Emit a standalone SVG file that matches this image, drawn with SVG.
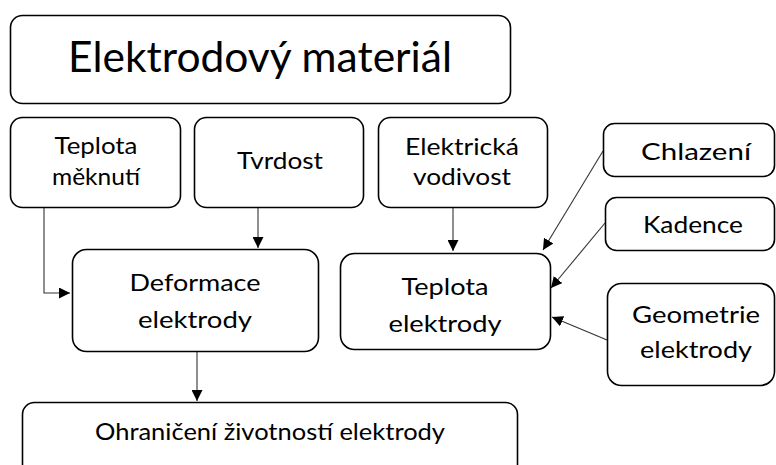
<svg xmlns="http://www.w3.org/2000/svg" width="776" height="465" viewBox="0 0 776 465">
<style>
.box{fill:#fff;stroke:#000;stroke-width:1.6}
.t{font-family:Lato,"Open Sans","Liberation Sans",sans-serif;font-size:24px;fill:#000;text-anchor:middle}
.title{font-size:42px}
.c{fill:none;stroke:#333;stroke-width:1.1}
</style>
<defs>
<marker id="ah" viewBox="0 0 10 10" refX="10" refY="5" markerWidth="11" markerHeight="11" markerUnits="userSpaceOnUse" orient="auto">
<path d="M0,0 L10,5 L0,10 Z" fill="#000"/>
</marker>
</defs>
<rect x="0" y="0" width="776" height="465" fill="#fff"/>
<g id="connectors">
<path class="c" d="M44,207 V293 H70" marker-end="url(#ah)"/>
<path class="c" d="M258,207 V248" marker-end="url(#ah)"/>
<path class="c" d="M453,207 V251" marker-end="url(#ah)"/>
<path class="c" d="M603,151 L543,250" marker-end="url(#ah)"/>
<path class="c" d="M605,223 L551,288" marker-end="url(#ah)"/>
<path class="c" d="M607,340 L552,317" marker-end="url(#ah)"/>
<path class="c" d="M197,352 V401" marker-end="url(#ah)"/>
</g>
<g id="n-material">
<rect class="box" x="10.5" y="15.5" width="500" height="88" rx="12"/>
<text class="t title" x="260" y="72" textLength="384" lengthAdjust="spacingAndGlyphs">Elektrodový materiál</text>
</g>
<g id="n-mekn">
<rect class="box" x="10.5" y="117.5" width="170" height="90" rx="12"/>
<text class="t" x="96" y="154" textLength="83" lengthAdjust="spacingAndGlyphs">Teplota</text>
<text class="t" x="96" y="185" textLength="88" lengthAdjust="spacingAndGlyphs">měknutí</text>
</g>
<g id="n-tvrdost">
<rect class="box" x="194.5" y="117.5" width="169" height="90" rx="12"/>
<text class="t" x="280" y="169" textLength="86" lengthAdjust="spacingAndGlyphs">Tvrdost</text>
</g>
<g id="n-vodivost">
<rect class="box" x="378.5" y="117.5" width="169" height="90" rx="12"/>
<text class="t" x="462" y="155" textLength="114" lengthAdjust="spacingAndGlyphs">Elektrická</text>
<text class="t" x="462" y="185" textLength="98" lengthAdjust="spacingAndGlyphs">vodivost</text>
</g>
<g id="n-chlazeni">
<rect class="box" x="603.5" y="123.5" width="171" height="53" rx="11"/>
<text class="t" x="696" y="160" textLength="110" lengthAdjust="spacingAndGlyphs">Chlazení</text>
</g>
<g id="n-kadence">
<rect class="box" x="605.5" y="197.5" width="169" height="53" rx="11"/>
<text class="t" x="693" y="233" textLength="100" lengthAdjust="spacingAndGlyphs">Kadence</text>
</g>
<g id="n-geometrie">
<rect class="box" x="607.5" y="283.5" width="167" height="102" rx="14"/>
<text class="t" x="696" y="323" textLength="128" lengthAdjust="spacingAndGlyphs">Geometrie</text>
<text class="t" x="696" y="358" textLength="112" lengthAdjust="spacingAndGlyphs">elektrody</text>
</g>
<g id="n-deformace">
<rect class="box" x="72.5" y="249.5" width="246" height="102" rx="14"/>
<text class="t" x="195" y="291" textLength="131" lengthAdjust="spacingAndGlyphs">Deformace</text>
<text class="t" x="195" y="328" textLength="114" lengthAdjust="spacingAndGlyphs">elektrody</text>
</g>
<g id="n-teplota">
<rect class="box" x="340.5" y="253.5" width="210" height="96" rx="14"/>
<text class="t" x="445" y="295" textLength="87" lengthAdjust="spacingAndGlyphs">Teplota</text>
<text class="t" x="445" y="332" textLength="113" lengthAdjust="spacingAndGlyphs">elektrody</text>
</g>
<g id="n-ohraniceni">
<rect class="box" x="22.5" y="402.5" width="495" height="90" rx="12"/>
<text class="t" x="270" y="440" textLength="350" lengthAdjust="spacingAndGlyphs">Ohraničení životností elektrody</text>
</g>
</svg>
